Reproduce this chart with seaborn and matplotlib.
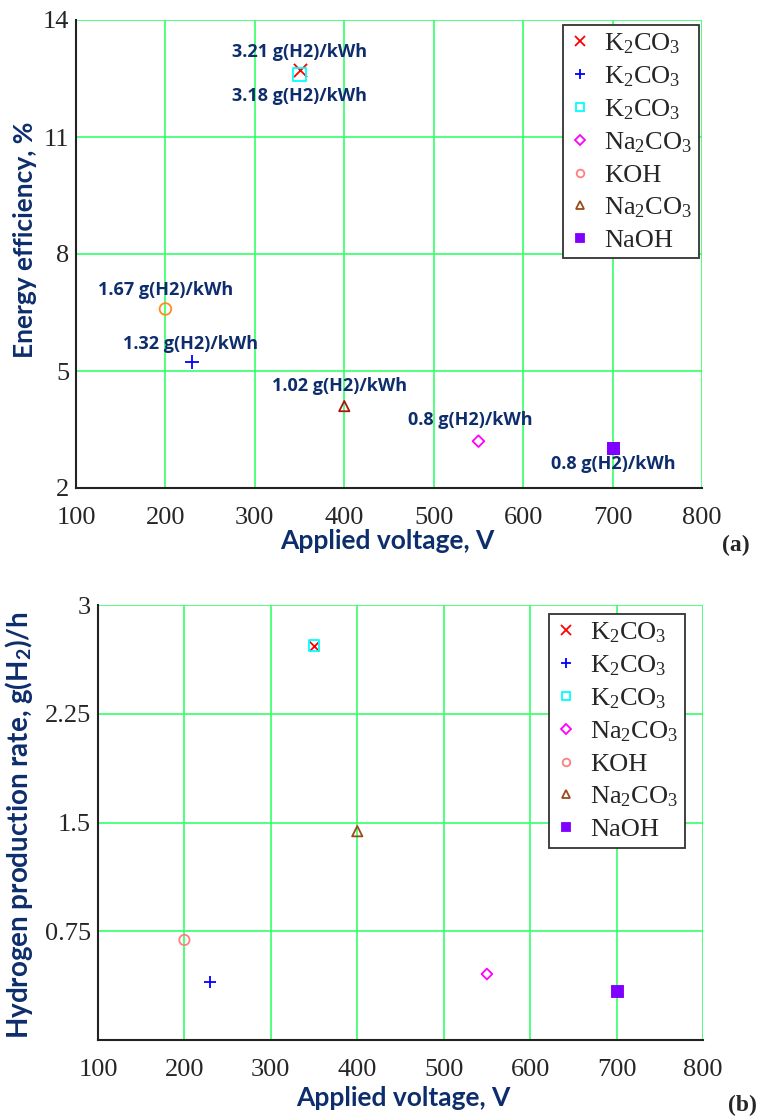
import numpy as np
import pandas as pd
import seaborn as sns
import matplotlib
matplotlib.use('Agg')
import matplotlib.pyplot as plt
from matplotlib.lines import Line2D

# --- data ---
series = ['K$_2$CO$_3$', 'K$_2$CO$_3$', 'K$_2$CO$_3$', 'Na$_2$CO$_3$', 'KOH', 'Na$_2$CO$_3$', 'NaOH']
markers = ['x', '+', 's', 'D', 'o', '^', 's']
filled = [False, False, False, False, False, False, True]
legend_colors = ['#ff0000', '#0000ff', '#00ffff', '#ff00ff', '#ff7f7f', '#9c4a1a', '#8000ff']
colors_a = ['#ff0000', '#0000ff', '#00ffff', '#ff00ff', '#ff8c1a', '#b01010', '#8000ff']
colors_b = ['#ff0000', '#0000ff', '#00ffff', '#ff00ff', '#ff7f7f', '#9c4a1a', '#8000ff']
sizes_a = [90, 90, 80, 35, 70, 55, 80]
sizes_b = [50, 80, 55, 30, 55, 55, 65]

voltage = [350, 230, 350, 550, 200, 400, 700]
efficiency = [12.72, 5.23, 12.6, 3.2, 6.59, 4.1, 3.02]
rate = [2.72, 0.40, 2.72, 0.455, 0.69, 1.44, 0.34]

# energy yield annotations (panel a)
ann_text = ['3.21 g(H2)/kWh', '3.18 g(H2)/kWh', '1.67 g(H2)/kWh', '1.32 g(H2)/kWh',
            '1.02 g(H2)/kWh', '0.8 g(H2)/kWh', '0.8 g(H2)/kWh']
ann_x = [350, 350, 200, 228, 395, 541, 701]
ann_y = [13.18, 12.05, 7.08, 5.69, 4.62, 3.74, 2.62]

df = pd.DataFrame({'series': series, 'voltage': voltage,
                   'efficiency': efficiency, 'rate': rate})

sns.set_style('white')
plt.rcParams['mathtext.fontset'] = 'custom'
plt.rcParams['mathtext.rm'] = 'Liberation Serif'
plt.rcParams['mathtext.it'] = 'Liberation Serif:italic'
plt.rcParams['mathtext.bf'] = 'Lato:bold'

NAVY = '#0d2d6c'
GRID = '#33ff66'
SERIF = 'Liberation Serif'

fig = plt.figure(figsize=(7.6, 11.17), dpi=100)
ax_a = fig.add_axes([76 / 760, 1 - 488 / 1117, 626 / 760, 468 / 1117])
ax_b = fig.add_axes([98 / 760, 1 - 1040 / 1117, 605 / 760, 435 / 1117])


def draw_points(ax, ycol, colors, sizes):
    for i, row in df.iterrows():
        c = colors[i]
        kw = dict(color=c, s=sizes[i], marker=markers[i], zorder=5)
        if markers[i] in ('x', '+'):
            kw['linewidth'] = 1.3
        elif filled[i]:
            kw['edgecolor'] = c
        else:
            kw['facecolor'] = 'none'
            kw['edgecolor'] = c
            kw['linewidth'] = 1.3
        sns.scatterplot(data=df.iloc[[i]], x='voltage', y=ycol, ax=ax, legend=False, **kw)


def style_axes(ax, yticks, ylim, yticklabels):
    ax.set_xlim(100, 800)
    ax.set_ylim(*ylim)
    ax.set_xticks(range(100, 801, 100))
    ax.set_yticks(yticks)
    ax.set_yticklabels(yticklabels)
    ax.grid(True, color=GRID, linewidth=1.2)
    ax.set_axisbelow(True)
    for s in ['top', 'right']:
        ax.spines[s].set_visible(False)
    for s in ['left', 'bottom']:
        ax.spines[s].set_color('#222222')
        ax.spines[s].set_linewidth(1.5)
    ax.tick_params(color='#222222', width=1.3, labelsize=19)
    for lab in ax.get_xticklabels() + ax.get_yticklabels():
        lab.set_family(SERIF)
    ax.tick_params(axis='x', direction='inout', length=8, pad=10)
    ax.tick_params(axis='y', direction='inout', length=8, pad=1)


def add_legend(ax, bbox):
    handles = []
    for i in range(len(series)):
        c = legend_colors[i]
        handles.append(Line2D([], [], linestyle='none', marker=markers[i],
                              markersize=7 if markers[i] in ('x', '+') else 5.5,
                              markeredgecolor=c,
                              markerfacecolor=c if filled[i] else 'none',
                              markeredgewidth=1.3))
    leg = ax.legend(handles, series, loc='upper right', bbox_to_anchor=bbox,
                    prop={'family': SERIF, 'size': 19}, frameon=True, fancybox=False,
                    framealpha=1, edgecolor='#333333', handlelength=0.8,
                    handletextpad=0.5, labelspacing=0.32, borderpad=0.25,
                    borderaxespad=0)
    leg.get_frame().set_linewidth(1.3)
    leg.set_zorder(10)


label_kw = dict(fontsize=19, fontweight='bold', color=NAVY, family='Lato')

# panel (a)
draw_points(ax_a, 'efficiency', colors_a, sizes_a)
style_axes(ax_a, [2, 5, 8, 11, 14], (2, 14), ['2', '5', '8', '11', '14'])
for t, x, y in zip(ann_text, ann_x, ann_y):
    ax_a.text(x, y, t, ha='center', va='center', fontsize=13, fontweight='bold',
              color=NAVY, family='Open Sans', zorder=6)
ax_a.set_xlabel('Applied voltage, V', **label_kw)
ax_a.xaxis.set_label_coords(0.498, -0.088)
ax_a.set_ylabel('Energy efficiency, %', **label_kw)
ax_a.yaxis.set_label_coords(-0.062, 0.53)
add_legend(ax_a, (0.995, 0.99))

# panel (b)
draw_points(ax_b, 'rate', colors_b, sizes_b)
style_axes(ax_b, [0.75, 1.5, 2.25, 3.0], (0, 3), ['0.75', '1.5', '2.25', '3'])
ax_b.set_xlabel('Applied voltage, V', **label_kw)
ax_b.xaxis.set_label_coords(0.504, -0.105)
ax_b.set_ylabel(r'Hydrogen production rate, g(H$_\mathbf{2}$)/h',
                **{**label_kw, 'fontsize': 20})
ax_b.yaxis.set_label_coords(-0.104, 0.494)
add_legend(ax_b, (0.97, 0.98))

fig.text(736 / 760, 1 - 545 / 1117, '(a)', fontsize=17, fontweight='bold',
         family=SERIF, ha='center', va='center')
fig.text(742 / 760, 1 - 1105 / 1117, '(b)', fontsize=17, fontweight='bold',
         family=SERIF, ha='center', va='center')

fig.savefig('out.png', dpi=100)
